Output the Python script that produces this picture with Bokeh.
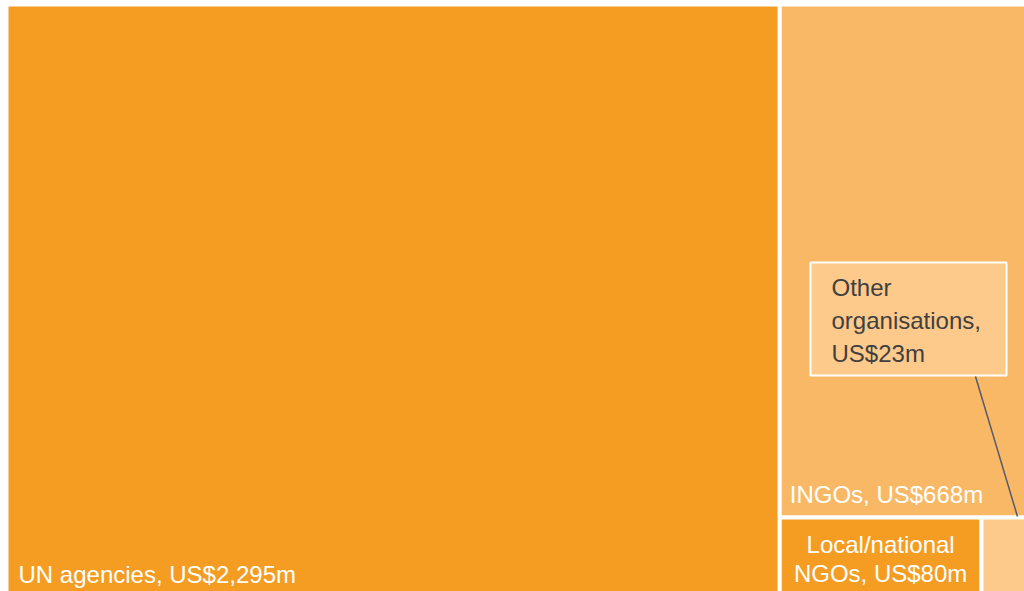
from bokeh.plotting import figure
from bokeh.models import Range1d, ColumnDataSource
from bokeh.core.properties import value
from bokeh.embed import file_html
from bokeh.resources import INLINE

categories = ["UN agencies", "INGOs", "Local/national NGOs", "Other organisations"]
amounts = [2295, 668, 80, 23]  # US$ millions
labels = ["UN agencies, US$2,295m", "INGOs, US$668m", "Local/national\nNGOs, US$80m",
          "Other\norganisations,\nUS$23m"]
colors = ["#F49D22", "#F9B865", "#F49D22", "#FDCA8C"]

# treemap canvas (the chart is slightly wider/taller than the window and is cropped)
W, H = 1033, 592
total = sum(amounts)

# slice & dice: UN column | right column (INGOs on top, bottom row of small ones)
un_w = W * amounts[0] / total
rest = sum(amounts[1:])
ingo_h = H * amounts[1] / rest
small = amounts[2] + amounts[3]
loc_w = (W - un_w) * amounts[2] / small

left = [0, un_w, un_w, un_w + loc_w]
right = [un_w, W, un_w + loc_w, W]
top = [0, 0, ingo_h, ingo_h]
bottom = [H, ingo_h, H, H]

p = figure(width=1024, height=591, x_range=Range1d(-6, 1018), y_range=Range1d(587, -4),
           output_backend="svg", toolbar_location=None, min_border=0)
p.axis.visible = False
p.grid.visible = False
p.outline_line_color = None
p.background_fill_color = "white"
p.border_fill_color = "white"

src = ColumnDataSource(dict(left=left, right=right, top=top, bottom=bottom, color=colors))
p.quad(left="left", right="right", top="top", bottom="bottom", fill_color="color",
       line_color="white", line_width=4, source=src)

font = value("Liberation Sans")
FS = "24px"
DY = -9  # renderer places alphabetic baseline slightly low; compensate


def draw_lines(x, y_first, text, step, color, align="left"):
    lines = text.split("\n")
    p.text(x=[x] * len(lines), y=[y_first + DY + i * step for i in range(len(lines))],
           text=lines, text_font=font, text_font_size=FS, text_color=color,
           text_baseline="alphabetic", text_align=align)


# UN label bottom-left
draw_lines(left[0] + 12, 579, labels[0], 0, "white")
# INGOs label bottom-left
draw_lines(left[1] + 10, ingo_h - 14, labels[1], 0, "white")
# Local label centred, two lines
draw_lines((left[2] + right[2]) / 2, ingo_h + 36, labels[2], 29, "white", align="center")

# callout box for "Other organisations"
bx0, bx1, by0, by1 = 804, 1000, 258, 371
p.quad(left=[bx0], right=[bx1], top=[by0], bottom=[by1], fill_color=colors[3],
       line_color="white", line_width=2)
draw_lines(bx0 + 21, by0 + 34, labels[3], 33, "#404040")
# leader line from box to the tiny rectangle
p.segment(x0=[bx1 - 31], y0=[by1 + 1], x1=[left[3] + 0.62 * (right[3] - left[3])],
          y1=[top[3] - 1], line_color="#555A6E", line_width=1.5)

open("out.html", "w").write(file_html(p, INLINE))
